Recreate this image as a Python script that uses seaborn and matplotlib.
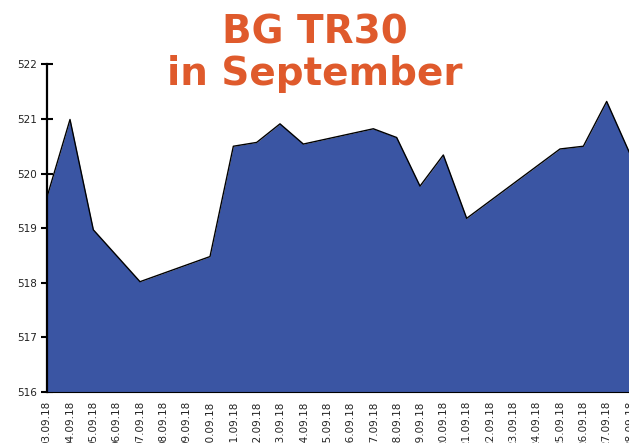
import matplotlib
matplotlib.use("Agg")
import matplotlib.pyplot as plt
import seaborn as sns

# Data
date_labels = ['03.09.18', '04.09.18', '05.09.18', '06.09.18', '07.09.18', '08.09.18',
               '09.09.18', '10.09.18', '11.09.18', '12.09.18', '13.09.18', '14.09.18',
               '15.09.18', '16.09.18', '17.09.18', '18.09.18', '19.09.18', '20.09.18',
               '21.09.18', '22.09.18', '23.09.18', '24.09.18', '25.09.18', '26.09.18',
               '27.09.18', '28.09.18']
trade_dates = ['03.09.18', '04.09.18', '05.09.18', '07.09.18', '10.09.18', '11.09.18',
               '12.09.18', '13.09.18', '14.09.18', '17.09.18', '18.09.18', '19.09.18',
               '20.09.18', '21.09.18', '25.09.18', '26.09.18', '27.09.18', '28.09.18']
values = [519.55, 520.99, 518.97, 518.02, 518.48, 520.50,
          520.57, 520.91, 520.54, 520.82, 520.66, 519.77,
          520.34, 519.18, 520.45, 520.50, 521.32, 520.36]
y_ticks = [516, 517, 518, 519, 520, 521, 522]

sns.set_style("white")
plt.rcParams['font.family'] = ['DejaVu Sans']

fig = plt.figure(figsize=(6.29, 4.43), dpi=100)
ax = fig.add_axes([0.0742, 0.1151, 0.9274, 0.7397])

xpos = [date_labels.index(d) for d in trade_dates]
ax.fill_between(xpos, values, y_ticks[0], color='#3A55A3', linewidth=0)
sns.lineplot(x=xpos, y=values, color='black', linewidth=1, ax=ax)

ax.set_xlim(0, len(date_labels) - 1)
ax.set_ylim(y_ticks[0], y_ticks[-1])
ax.set_xticks(range(len(date_labels)))
ax.set_xticklabels(date_labels, rotation=90, va='top', ha='center')
ax.set_yticks(y_ticks)
ax.set_xlabel('')
ax.set_ylabel('')

ax.tick_params(axis='x', bottom=False, length=0, pad=6.5, labelsize=7.5,
               labelcolor='#222222')
ax.tick_params(axis='y', left=True, direction='inout', length=8, width=1.5,
               color='black', pad=3, labelsize=7.5, labelcolor='#222222')

for s in ['top', 'right']:
    ax.spines[s].set_visible(False)
ax.spines['left'].set_linewidth(1.6)
ax.spines['left'].set_color('black')
ax.spines['bottom'].set_linewidth(0.8)
ax.spines['bottom'].set_color('black')

title_color = '#DF5A2C'
fig.text(0.5, 0.9023, 'BG TR30', ha='center', va='baseline', fontsize=28,
         fontweight='bold', color=title_color)
fig.text(0.5, 0.8081, 'in September', ha='center', va='baseline', fontsize=28,
         fontweight='bold', color=title_color)

fig.savefig('out.png', dpi=100)
